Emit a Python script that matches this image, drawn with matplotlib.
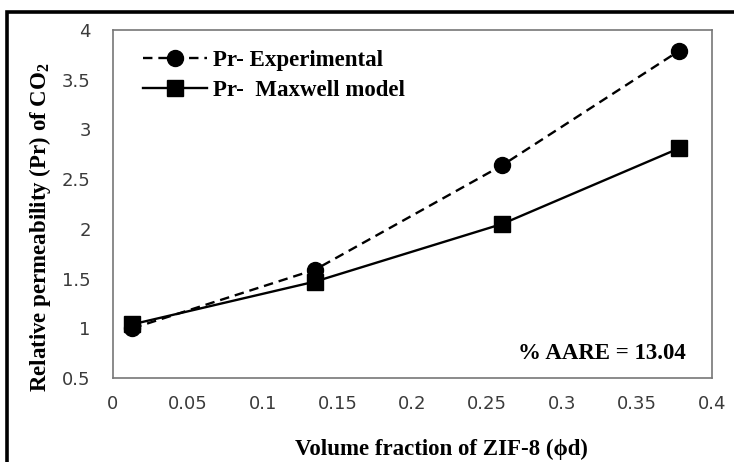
import matplotlib
matplotlib.use("Agg")
import matplotlib.pyplot as plt
from matplotlib.patches import Rectangle

phi = [0.013, 0.135, 0.26, 0.378]
pr_exp = [1.00, 1.59, 2.64, 3.79]
pr_max = [1.04, 1.47, 2.05, 2.81]
xticks = [0, 0.05, 0.1, 0.15, 0.2, 0.25, 0.3, 0.35, 0.4]
yticks = [0.5, 1, 1.5, 2, 2.5, 3, 3.5, 4]

plt.rcParams['mathtext.fontset'] = 'custom'
plt.rcParams['mathtext.rm'] = 'Liberation Serif:bold'
plt.rcParams['mathtext.it'] = 'Liberation Serif:bold'
plt.rcParams['mathtext.bf'] = 'Liberation Serif:bold'

W, H = 734, 462
fig = plt.figure(figsize=(W / 100, H / 100), dpi=100)
ax = fig.add_axes([113 / W, 1 - 378 / H, (712 - 113) / W, (378 - 30) / H])

ax.plot(phi, pr_exp, color='black', linestyle=(0, (4, 2.5)), lw=1.7,
        marker='o', markersize=11.5, label='Pr- Experimental')
ax.plot(phi, pr_max, color='black', linestyle='-', lw=1.7,
        marker='s', markersize=11, label='Pr-  Maxwell model')

ax.set_xlim(0, 0.4)
ax.set_ylim(0.5, 4)
ax.set_xticks(xticks)
ax.set_yticks(yticks)
ax.set_xticklabels([f"{v:g}" for v in xticks])
ax.set_yticklabels([f"{v:g}" for v in yticks])
ax.tick_params(length=0, labelsize=13, labelcolor='#3a3a3a', pad=12)
ax.tick_params(axis='y', pad=16)
for s in ax.spines.values():
    s.set_color('#777777')
    s.set_linewidth(1.2)

serif = ['Liberation Serif', 'DejaVu Serif']
ax.set_xlabel('Volume fraction of ZIF-8 (ϕd)', family=serif, fontweight='bold',
              fontsize=16.5)
ax.xaxis.set_label_coords(0.549, -0.176)
ax.set_ylabel(r'Relative permeability (Pr) of CO$_\mathregular{2}$', family=serif,
              fontweight='bold', fontsize=16.5)
ax.yaxis.set_label_coords(-0.101, 0.434)

ax.text(0.957, 0.07, '% AARE = 13.04', transform=ax.transAxes, ha='right',
        va='center', family=serif, fontweight='bold', fontsize=16.5)

leg = ax.legend(loc='upper left', frameon=False,
                prop={'family': serif, 'weight': 'bold', 'size': 16.5},
                handlelength=2.8, borderaxespad=0.3, labelspacing=0.42,
                handletextpad=0.25, bbox_to_anchor=(0.023, 0.99))

fig.patches.append(Rectangle((7 / W, -0.1), 1.2, (1 - 12 / H) + 0.1,
                             transform=fig.transFigure, fill=False,
                             edgecolor='black', lw=2.6))

fig.savefig('out.png', dpi=100)
